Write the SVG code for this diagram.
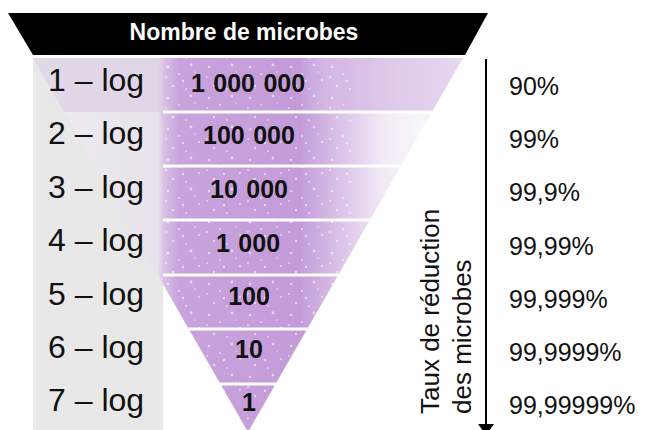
<svg xmlns="http://www.w3.org/2000/svg" width="646" height="430" viewBox="0 0 646 430">
<defs>
<style>
.lbl{font-family:"Liberation Sans",Arial,sans-serif;font-size:32px;fill:#111}
.num{font-family:"Liberation Sans",Arial,sans-serif;font-size:25px;font-weight:bold;fill:#111;text-anchor:middle;word-spacing:1.5px}
.pct{font-family:"Liberation Sans",Arial,sans-serif;font-size:25px;fill:#111}
.axis{font-family:"Liberation Sans",Arial,sans-serif;font-size:26px;fill:#111}
.head{font-family:"Liberation Sans",Arial,sans-serif;font-size:23px;font-weight:bold;fill:#fff;text-anchor:middle}
.sep{stroke:#fff;stroke-width:3}
</style>
<linearGradient id="purple" gradientUnits="userSpaceOnUse" x1="33" y1="0" x2="463" y2="0">
<stop offset="0" stop-color="#efedf0"/>
<stop offset="0.29" stop-color="#e9e2ec"/>
<stop offset="0.305" stop-color="#d7c0e4"/>
<stop offset="0.34" stop-color="#c8a3dc"/>
<stop offset="0.62" stop-color="#c39bd9"/>
<stop offset="0.71" stop-color="#d9c1e7"/>
<stop offset="0.82" stop-color="#f3ecf7"/>
<stop offset="1" stop-color="#ffffff"/>
</linearGradient>
<linearGradient id="row1" gradientUnits="userSpaceOnUse" x1="33" y1="0" x2="463" y2="0">
<stop offset="0" stop-color="#dccfe4" stop-opacity="0.7"/>
<stop offset="0.29" stop-color="#dccfe4" stop-opacity="0.7"/>
<stop offset="0.3" stop-color="#d4b8e4" stop-opacity="0"/>
<stop offset="0.62" stop-color="#d4b8e4" stop-opacity="0"/>
<stop offset="0.72" stop-color="#d4b8e4" stop-opacity="0.8"/>
<stop offset="1" stop-color="#e4d3ee" stop-opacity="0.9"/>
</linearGradient>
<pattern id="dots" width="41" height="31" patternUnits="userSpaceOnUse">
<g fill="#fff" opacity="0.55">
<circle cx="4" cy="5" r="1.3"/><circle cx="15" cy="12" r="1"/><circle cx="27" cy="3" r="1.4"/>
<circle cx="35" cy="18" r="1.1"/><circle cx="9" cy="24" r="1.2"/><circle cx="22" cy="27" r="0.9"/>
<circle cx="31" cy="10" r="0.8"/><circle cx="19" cy="19" r="1.2"/><circle cx="2" cy="15" r="0.9"/>
</g>
</pattern>
<clipPath id="tri"><polygon points="33,58 463,58 248,432"/></clipPath>
<marker id="arrow" markerUnits="userSpaceOnUse" markerWidth="11" markerHeight="16" viewBox="0 0 11 16" refX="10" refY="8" orient="auto">
<path d="M0,0 L11,8 L0,16 z" fill="#000"/>
</marker>
</defs>

<g id="header">
<polygon points="8,13 488,13 465,55 33,55" fill="#000"/>
<text class="head" x="244" y="40">Nombre de microbes</text>
</g>

<g id="grayband">
<rect x="33" y="58" width="130" height="372" fill="#e8e8e8"/>
</g>

<g id="funnel" clip-path="url(#tri)">
<rect x="33" y="58" width="430" height="374" fill="url(#purple)"/>
<rect x="33" y="58" width="430" height="54" fill="url(#row1)"/>
<rect x="163" y="58" width="190" height="374" fill="url(#dots)"/>
<line class="sep" x1="163" y1="112" x2="463" y2="112"/>
<line class="sep" x1="163" y1="166" x2="463" y2="166"/>
<line class="sep" x1="163" y1="220" x2="463" y2="220"/>
<line class="sep" x1="163" y1="275" x2="463" y2="275"/>
<line class="sep" x1="163" y1="329" x2="463" y2="329"/>
<line class="sep" x1="163" y1="384" x2="463" y2="384"/>
</g>

<g id="logs">
<text class="lbl" x="48" y="91">1 – log</text>
<text class="lbl" x="48" y="144">2 – log</text>
<text class="lbl" x="48" y="198">3 – log</text>
<text class="lbl" x="48" y="251">4 – log</text>
<text class="lbl" x="48" y="305">5 – log</text>
<text class="lbl" x="48" y="358">6 – log</text>
<text class="lbl" x="48" y="411">7 – log</text>
</g>

<g id="counts">
<text class="num" x="248" y="92">1 000 000</text>
<text class="num" x="249" y="144">100 000</text>
<text class="num" x="249" y="198">10 000</text>
<text class="num" x="248" y="252">1 000</text>
<text class="num" x="249" y="305">100</text>
<text class="num" x="249" y="358">10</text>
<text class="num" x="249" y="411">1</text>
</g>

<g id="percents">
<text class="pct" x="509" y="95">90%</text>
<text class="pct" x="509" y="148">99%</text>
<text class="pct" x="509" y="201">99,9%</text>
<text class="pct" x="509" y="255">99,99%</text>
<text class="pct" x="509" y="308">99,999%</text>
<text class="pct" x="509" y="361">99,9999%</text>
<text class="pct" x="509" y="414">99,99999%</text>
</g>

<g id="axis-label">
<text class="axis" transform="translate(439,414) rotate(-90)">Taux de réduction</text>
<text class="axis" transform="translate(471,414) rotate(-90)">des microbes</text>
</g>

<g id="connectors">
<line x1="486" y1="59" x2="486" y2="434" stroke="#000" stroke-width="2" marker-end="url(#arrow)"/>
</g>
</svg>
